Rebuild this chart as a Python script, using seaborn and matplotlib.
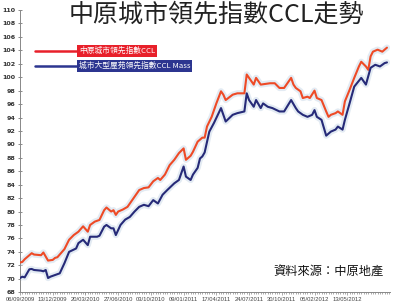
import numpy as np
import pandas as pd
import matplotlib
matplotlib.use("Agg")
import matplotlib.pyplot as plt
from matplotlib.lines import Line2D
import matplotlib.dates as mdates
import seaborn as sns

# ---------------- data ----------------
start_date = "2009-09-06"

red_name = "中原城市領先指數CCL"
red_week = [0, 1, 2, 5, 6, 9, 10, 11, 12, 14, 15, 16, 19, 21, 23, 25, 27, 29, 30, 32,
            34, 36, 37, 39, 40, 41, 42, 44, 46, 51, 53, 55, 57, 59, 60, 62, 64, 66, 68, 70,
            71, 73, 74, 76, 78, 79, 80, 82, 84, 86, 87, 88, 91, 93, 96, 97, 98, 100, 101, 103,
            105, 107, 109, 111, 113, 116, 117, 118, 120, 121, 123, 124, 126, 127, 129, 131, 132, 133, 135, 136,
            138, 139, 141, 143, 145, 146, 148, 149, 150, 151, 153, 155, 157]
red_value = [72.4, 72.5, 72.9, 73.8, 73.6, 73.5, 73.9, 73.3, 72.7, 72.8, 73.1, 73.2, 74.4, 75.8, 76.5, 77.0, 77.8, 77.0, 78.0, 78.5,
             78.75, 80.2, 80.6, 80.0, 80.2, 79.5, 80.0, 80.3, 80.7, 83.2, 83.5, 83.6, 84.5, 85.0, 84.7, 85.5, 86.9, 87.7, 88.7, 89.4,
             87.7, 88.3, 88.9, 90.4, 91.0, 91.0, 92.65, 94.1, 96.1, 97.9, 97.4, 96.6, 97.4, 97.6, 97.6, 100.4, 99.9, 98.9, 99.9, 98.9,
             99.0, 99.1, 99.1, 98.4, 98.4, 99.9, 98.9, 98.4, 97.9, 96.9, 97.1, 96.9, 98.0, 96.9, 96.6, 94.9, 94.1, 94.4, 94.65, 94.9,
             94.4, 96.4, 98.1, 99.9, 101.6, 102.3, 101.6, 101.1, 103.1, 103.8, 104.1, 103.8, 104.4]

blue_name = "城市大型屋苑領先指數CCL Mass"
blue_week = [0, 1, 2, 4, 5, 6, 9, 10, 11, 12, 13, 15, 17, 19, 21, 24, 25, 27, 29, 30,
             33, 34, 36, 37, 39, 40, 41, 43, 45, 47, 49, 51, 53, 55, 57, 59, 61, 63, 66, 68,
             70, 71, 73, 74, 76, 77, 78, 79, 81, 83, 86, 87, 88, 91, 93, 96, 97, 98, 100, 101,
             103, 104, 106, 108, 111, 113, 116, 118, 119, 121, 123, 125, 126, 127, 129, 131, 133, 135, 136, 138,
             139, 141, 143, 146, 147, 148, 150, 152, 154, 156, 157]
blue_value = [70.1, 70.3, 70.2, 71.4, 71.45, 71.3, 71.2, 71.1, 71.3, 70.1, 70.3, 70.55, 70.8, 72.3, 74.0, 74.5, 75.3, 75.8, 75.0, 76.25,
              76.25, 76.4, 77.75, 78.0, 77.5, 77.5, 76.5, 78.0, 78.8, 79.2, 80.0, 80.7, 81.0, 80.8, 81.7, 81.2, 82.5, 83.2, 84.2, 84.7,
              86.7, 85.2, 84.7, 85.5, 86.5, 87.9, 88.2, 88.8, 91.9, 93.2, 95.4, 94.4, 93.4, 94.4, 94.65, 94.9, 97.6, 96.6, 95.6, 96.6,
              95.4, 96.1, 95.6, 95.4, 94.9, 94.9, 96.6, 95.4, 94.9, 94.4, 94.1, 94.4, 95.1, 94.1, 93.65, 91.3, 91.9, 92.2, 92.65, 92.2,
              93.65, 96.1, 98.6, 99.9, 99.4, 98.9, 101.4, 101.85, 101.6, 102.1, 102.2]

x_tick_labels = ["06/09/2009", "13/12/2009", "20/03/2010", "27/06/2010", "03/10/2010", "09/01/2011",
                 "17/04/2011", "24/07/2011", "30/10/2011", "05/02/2012", "13/05/2012"]
y_ticks = list(range(68, 111, 2))

title = "中原城市領先指數CCL走勢"
source = "資料來源：中原地產"

# ---------------- style ----------------
RED = "#ee4a26"
BLUE = "#262a78"
HALO = "#e3ebf3"

sns.set_theme(style="white")
plt.rcParams["font.family"] = ["Noto Sans CJK TC", "DejaVu Sans"]

fig = plt.figure(figsize=(4.0, 3.04), dpi=100)
ax = fig.add_axes([0.05, 0.039, 0.925, 0.928])

start = pd.Timestamp(start_date)
red_df = pd.DataFrame({"date": start + pd.to_timedelta(np.array(red_week) * 7, unit="D"),
                       "value": red_value})
blue_df = pd.DataFrame({"date": start + pd.to_timedelta(np.array(blue_week) * 7, unit="D"),
                        "value": blue_value})

for df in (red_df, blue_df):
    sns.lineplot(data=df, x="date", y="value", ax=ax, color=HALO, lw=4.5, zorder=1)
for df, col in ((red_df, RED), (blue_df, BLUE)):
    sns.lineplot(data=df, x="date", y="value", ax=ax, color=col, lw=1.5, zorder=3)

ax.set_xlim(start, start + pd.Timedelta(days=7 * 158.3))
ax.set_ylim(68, 110)
ax.set_xlabel("")
ax.set_ylabel("")

ax.set_yticks(y_ticks)
ax.set_yticklabels([str(v) for v in y_ticks], fontsize=4.6, fontweight="bold",
                   family=["DejaVu Sans"], color="#333333")
ax.tick_params(axis="y", direction="inout", length=3, width=0.6, color="#777777", pad=1.5, left=True)

tick_dates = pd.to_datetime(x_tick_labels, format="%d/%m/%Y")
ax.set_xticks(tick_dates)
ax.set_xticklabels(x_tick_labels, fontsize=4.2, family=["Liberation Sans"], color="#444444")
ax.xaxis.set_minor_locator(mdates.WeekdayLocator(byweekday=mdates.SU))
ax.tick_params(axis="x", which="major", direction="out", length=2, width=0.5, color="#888888", pad=1.2, bottom=True)
ax.tick_params(axis="x", which="minor", direction="out", length=1.5, width=0.5, color="#888888", bottom=True)

for s in ("top", "right"):
    ax.spines[s].set_visible(False)
for s in ("left", "bottom"):
    ax.spines[s].set_color("#888888")
    ax.spines[s].set_linewidth(0.7)

# title
fig.text(0.54, 0.952, title, ha="center", va="center", fontsize=18, color="#222222")

# legend (drawn manually like the original)
fig.add_artist(Line2D([0.088, 0.195], [0.832, 0.832], transform=fig.transFigure, color="#e8202a", lw=1.8))
fig.add_artist(Line2D([0.088, 0.195], [0.783, 0.783], transform=fig.transFigure, color="#2c3590", lw=1.8))
fig.text(0.197, 0.832, red_name, ha="left", va="center", fontsize=5.6, color="white",
         bbox=dict(boxstyle="square,pad=0.25", fc="#e8202a", ec="none"))
fig.text(0.197, 0.783, blue_name, ha="left", va="center", fontsize=5.6, color="white",
         bbox=dict(boxstyle="square,pad=0.25", fc="#2c3590", ec="none"))

# source
fig.text(0.822, 0.106, source, ha="center", va="center", fontsize=8.8, color="#111111")

fig.savefig("out.png", dpi=100, facecolor="white")
